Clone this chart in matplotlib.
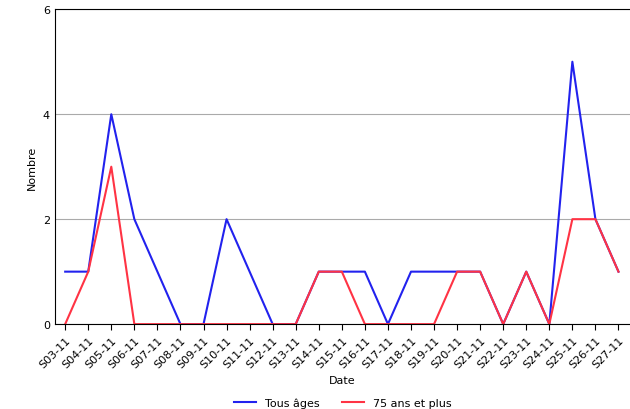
import matplotlib
matplotlib.use("Agg")
import matplotlib.pyplot as plt

weeks = ["S%02d-11" % w for w in range(3, 28)]
tous_ages = [1, 1, 4, 2, 1, 0, 0, 2, 1, 0, 0, 1, 1, 1, 0, 1, 1, 1, 1, 0, 1, 0, 5, 2, 1]
plus_75 = [0, 1, 3, 0, 0, 0, 0, 0, 0, 0, 0, 1, 1, 0, 0, 0, 0, 1, 1, 0, 1, 0, 2, 2, 1]

fig = plt.figure(figsize=(6.3, 4.1), dpi=100)
ax = fig.add_axes([0.087, 0.207, 0.913, 0.768])
x = list(range(len(weeks)))
ax.plot(x, tous_ages, color="#2222ee", lw=1.5, label="Tous âges")
ax.plot(x, plus_75, color="#ff3344", lw=1.5, label="75 ans et plus")

ax.set_xlim(-0.45, len(weeks) - 0.5)
ax.set_ylim(0, 6)
ax.set_yticks([0, 2, 4, 6])
ax.set_xticks(x)
ax.set_xticklabels(weeks, rotation=45, ha="right", rotation_mode="anchor", fontsize=8)
ax.tick_params(axis="y", labelsize=8, length=0)
ax.tick_params(axis="x", length=4)
ax.grid(axis="y", color="#aaaaaa", lw=0.8)
ax.set_axisbelow(True)
ax.spines["right"].set_visible(False)
ax.set_xlabel("Date", fontsize=8)
ax.set_ylabel("Nombre", fontsize=8)
ax.legend(loc="upper center", bbox_to_anchor=(0.5, -0.2), ncol=2, frameon=False, fontsize=8)

fig.savefig("out.png")
